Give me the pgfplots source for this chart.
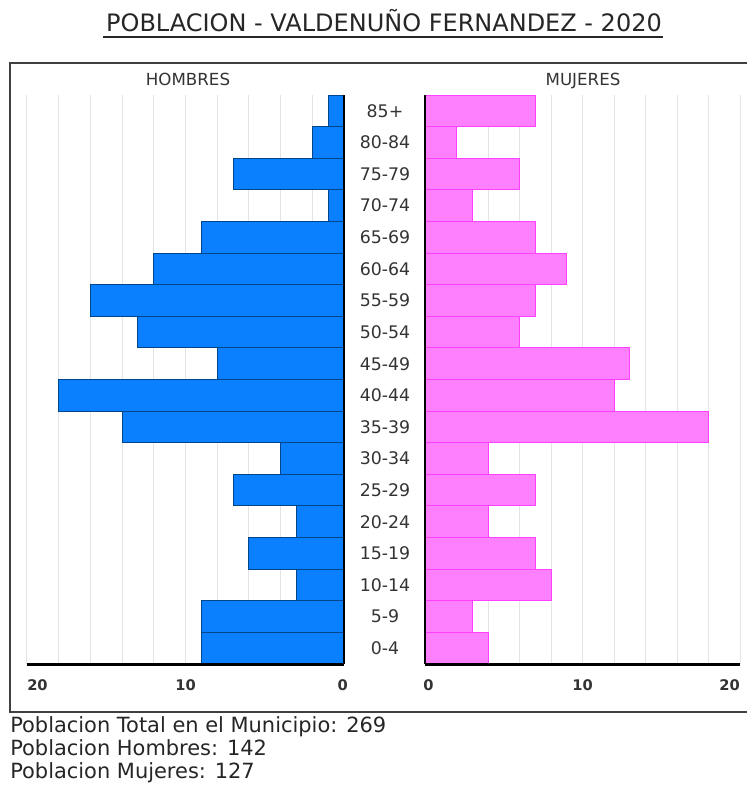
\documentclass[border=0pt]{standalone}
\usepackage{fontspec}
\setmainfont{DejaVu Sans}
\usepackage{pgfplots}
\pgfplotsset{compat=1.18}
\usepackage{pgfplotstable}

\definecolor{hfill}{HTML}{0A80FF}
\definecolor{hdraw}{HTML}{00458C}
\definecolor{mfill}{HTML}{FF80FF}
\definecolor{mdraw}{HTML}{FF40FF}
\definecolor{gridc}{HTML}{E4E4E4}
\definecolor{txt}{HTML}{333333}

% idx 0 = 0-4 ... idx 17 = 85+
\pgfplotstableread{
idx hombres mujeres
0   9  4
1   9  3
2   3  8
3   6  7
4   3  4
5   7  7
6   4  4
7  14 18
8  18 12
9   8 13
10 13  6
11 16  7
12 12  9
13  9  7
14  1  3
15  7  6
16  2  2
17  1  7
}\piramide

\pgfplotsset{piramide/.style={
    scale only axis,
    height=426.75pt,
    xbar, bar width=1,
    xmin=0, xmax=20, ymin=-0.5, ymax=17.5,
    xtick={0,2,...,20}, xticklabels={,,,,,,,,,,,},
    xmajorgrids, grid style={gridc, line width=0.75pt},
    major tick length=0,
    axis line style={draw=none},
    clip=false,
    anchor=center,
}}

\begin{document}
\begin{tikzpicture}
\path[use as bounding box] (0,0) rectangle (560.25pt,-588.75pt);

% HOMBRES
\begin{axis}[piramide, width=237.75pt, x dir=reverse, ytick=\empty,
    at={(185.5*0.75pt,-379.5*0.75pt)}]
\addplot[fill=hfill, draw=hdraw, line width=0.75pt] table[x=hombres, y=idx] {\piramide};
\draw[line width=2pt] (axis cs:0,-0.5) -- (axis cs:0,17.5);
\draw[line width=2.25pt] (axis cs:20,-0.5) -- (axis cs:0,-0.5);
\end{axis}

% MUJERES
\begin{axis}[piramide, width=236.25pt,
    at={(582.5*0.75pt,-379.5*0.75pt)},
    ytick={0,...,17},
    yticklabels={0-4,5-9,10-14,15-19,20-24,25-29,30-34,35-39,40-44,45-49,50-54,55-59,60-64,65-69,70-74,75-79,80-84,85+},
    yticklabel style={anchor=center, xshift=-30pt, text=txt, font=\fontsize{13}{15}\selectfont}]
\addplot[fill=mfill, draw=mdraw, line width=0.75pt] table[x=mujeres, y=idx] {\piramide};
\draw[line width=2pt] (axis cs:0,-0.5) -- (axis cs:0,17.5);
\draw[line width=2.25pt] (axis cs:0,-0.5) -- (axis cs:20,-0.5);
\end{axis}

\begin{scope}[x=0.75pt, y=-0.75pt]
% titulo
\node[anchor=base, inner sep=0pt, text=black!85, font=\fontsize{18}{21}\selectfont]
    at (384,31.5) {POBLACION - VALDENUÑO FERNANDEZ - 2020};
\draw[line width=1.5pt, black!85] (103,37) -- (663,37);
% marco
\draw[line width=1.2pt, black!75] (747,63) -- (10,63) -- (10,712) -- (747,712);
% cabeceras
\node[anchor=base, inner sep=0pt, text=txt, font=\fontsize{12.5}{15}\selectfont] at (188,85) {HOMBRES};
\node[anchor=base, inner sep=0pt, text=txt, font=\fontsize{12.5}{15}\selectfont] at (583,85) {MUJERES};
% etiquetas del eje x
\begin{scope}[every node/.style={inner sep=0pt, text=txt, font=\fontsize{11}{13}\selectfont\bfseries}]
\node[anchor=base west] at (27,690) {20};
\node[anchor=base] at (185.5,690) {10};
\node[anchor=base east] at (348,690) {0};
\node[anchor=base west] at (423,690) {0};
\node[anchor=base] at (582.5,690) {10};
\node[anchor=base east] at (740,690) {20};
\end{scope}
% totales
\begin{scope}[every node/.style={anchor=base west, inner sep=0pt, text=black!85, font=\fontsize{15.7}{18}\selectfont}]
\node at (10,732) {Poblacion Total en el Municipio: 269};
\node at (10,755) {Poblacion Hombres: 142};
\node at (10,778) {Poblacion Mujeres: 127};
\end{scope}
\end{scope}
\end{tikzpicture}
\end{document}
